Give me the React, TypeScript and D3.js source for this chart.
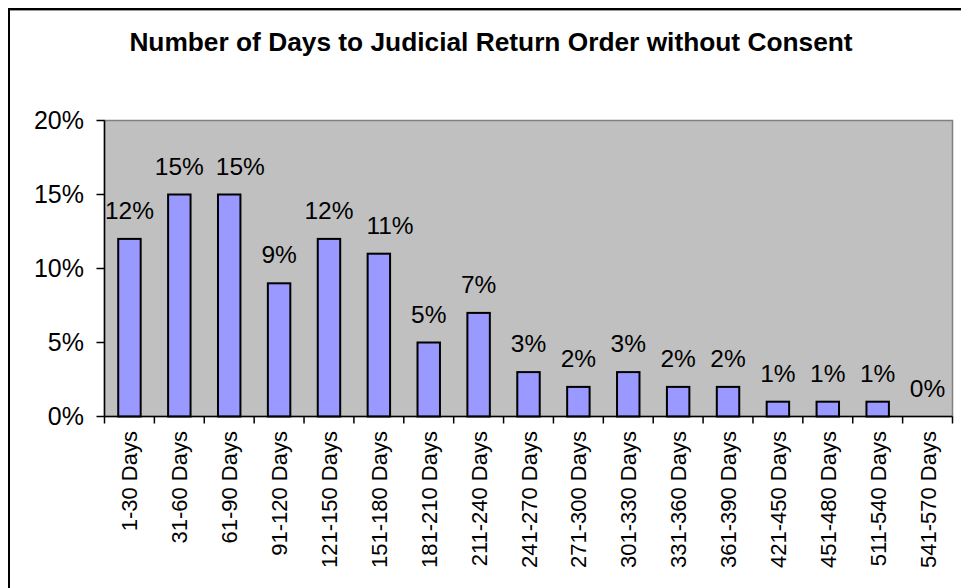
import React from "react";
import * as d3 from "d3";

const categories = [
  "1-30 Days", "31-60 Days", "61-90 Days", "91-120 Days", "121-150 Days",
  "151-180 Days", "181-210 Days", "211-240 Days", "241-270 Days", "271-300 Days",
  "301-330 Days", "331-360 Days", "361-390 Days", "421-450 Days", "451-480 Days",
  "511-540 Days", "541-570 Days",
];
const values = [12, 15, 15, 9, 12, 11, 5, 7, 3, 2, 3, 2, 2, 1, 1, 1, 0];
const yTicks = [0, 5, 10, 15, 20];
const title = "Number of Days to Judicial Return Order without Consent";

const W = 961;
const H = 588;
const FONT = "'Liberation Sans', Arial, Helvetica, sans-serif";
const LABEL_FS = 24.5;

function labelWidth(s: string, fs: number) {
  let w = 0;
  for (const ch of s) w += ch === "%" ? 0.889 : 0.556;
  return w * fs;
}

export default function App() {
  const left = 104.5, right = 952.5, top = 120.5, bottom = 416.5;
  const x = d3.scaleBand<string>()
    .domain(categories)
    .range([left, right])
    .paddingInner(0.55)
    .paddingOuter(0.275);
  const y = d3.scaleLinear().domain([0, 20]).range([bottom, top]);
  const step = x.step();

  // data label placement with simple left-to-right collision avoidance (like Excel)
  const labels: { text: string; cx: number; by: number; w: number }[] = [];
  values.forEach((v, i) => {
    const text = v + "%";
    const w = labelWidth(text, LABEL_FS);
    let cx = x(categories[i])! + x.bandwidth() / 2;
    const by = y(v) - 20;
    const prev = labels[i - 1];
    if (prev && Math.abs(prev.by - by) < LABEL_FS * 0.75) {
      const prevRight = prev.cx + prev.w / 2;
      if (cx - w / 2 < prevRight + 12) cx = prevRight + 12 + w / 2;
    }
    labels.push({ text, cx, by, w });
  });

  return (
    <svg width={W} height={H} style={{ position: "absolute", left: 0, top: 0, background: "#fff" }}
      fontFamily={FONT}>
      {/* outer border */}
      <rect x={9} y={9} width={970} height={600} fill="none" stroke="#000" strokeWidth={2} />
      <line x1={10} x2={W} y1={10.5} y2={10.5} stroke="#999" strokeWidth={1} />
      {/* title */}
      <text x={491} y={50.5} textAnchor="middle" fontSize={26.3} fontWeight="bold" fill="#000">{title}</text>
      {/* plot area */}
      <rect x={left} y={top} width={right - left} height={bottom - top} fill="#C0C0C0" stroke="#808080" strokeWidth={1.5} />
      {/* bars */}
      {values.map((v, i) => (
        <rect key={i} x={x(categories[i])!} y={y(v)} width={x.bandwidth()} height={bottom - y(v)}
          fill="#9999FF" stroke="#000" strokeWidth={2} style={{ display: v > 0 ? undefined : "none" }} />
      ))}
      {/* value labels */}
      {labels.map((l, i) => (
        <text key={"l" + i} x={l.cx} y={l.by} textAnchor="middle" fontSize={LABEL_FS} fill="#000">{l.text}</text>
      ))}
      {/* axes */}
      <line x1={left} x2={left} y1={top} y2={bottom} stroke="#000" strokeWidth={1.5} />
      <line x1={left} x2={right} y1={bottom} y2={bottom} stroke="#000" strokeWidth={1.5} />
      {yTicks.map((t) => (
        <g key={"y" + t}>
          <line x1={left - 8} x2={left} y1={y(t)} y2={y(t)} stroke="#000" strokeWidth={1.5} />
          <text x={84} y={y(t) + 8.8} textAnchor="end" fontSize={25} fill="#000">{t + "%"}</text>
        </g>
      ))}
      {d3.range(categories.length + 1).map((k) => (
        <line key={"t" + k} x1={left + k * step} x2={left + k * step} y1={bottom} y2={bottom + 7}
          stroke="#000" strokeWidth={1.5} />
      ))}
      {categories.map((c) => {
        const cx = x(c)! + x.bandwidth() / 2;
        return (
          <text key={"x" + c} transform={`translate(${cx + 8},431) rotate(-90)`} textAnchor="end"
            fontSize={22} fill="#000">{c}</text>
        );
      })}
    </svg>
  );
}
